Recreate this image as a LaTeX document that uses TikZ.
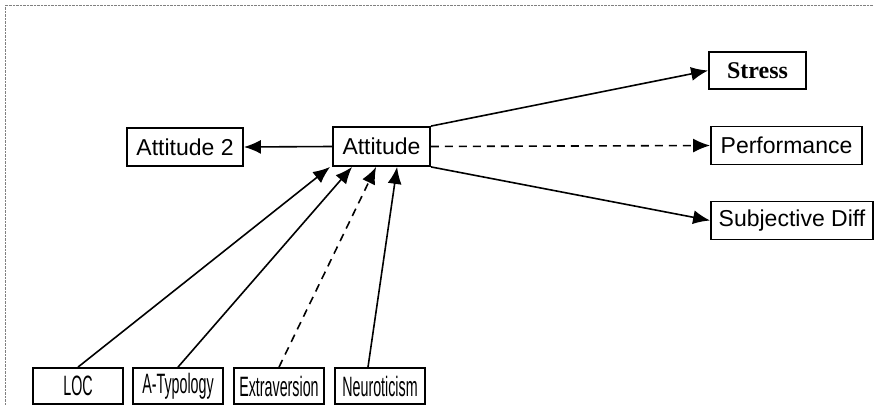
\documentclass[tikz,border=0pt]{standalone}
\usepackage{fontspec}
\setmainfont{Liberation Sans}
\newfontfamily\serifbox{Liberation Serif}
\usepackage{tikz}
\usetikzlibrary{arrows.meta}

\newcommand{\squeezed}[1]{\scalebox{0.51}[1]{#1}}

\begin{document}
\begin{tikzpicture}[x=1pt,y=-1pt,
		box/.style={draw, line width=1.8pt, inner sep=0pt, font=\fontsize{23}{27}\selectfont},
		lowbox/.style={box, minimum width=90pt, minimum height=36pt, font=\fontsize{28}{32}\selectfont},
		link/.style={line width=1.6pt, -{Latex[length=17pt,width=14pt]}},
		dashlink/.style={link, dash pattern=on 8pt off 6pt}]
			\useasboundingbox (0,0) rectangle (874,406);
			\draw [gray, densely dotted] (5,406) -- (5,5) -- (874,5);
			
			% middle row
			\node[box, minimum width=97pt, minimum height=39pt] (att) at (381.5,146.5) {Attitude};
			\node[box, minimum width=116pt, minimum height=38pt] (att2) at (185,147) {Attitude 2};
			
			% right column
			\node[box, minimum width=97pt, minimum height=37pt, font=\serifbox\bfseries\fontsize{24}{28}\selectfont] (stress) at (757.5,70.5) {Stress};
			\node[box, minimum width=151pt, minimum height=38pt] (perf) at (786.5,145.5) {Performance};
			\node[box, minimum width=162pt, minimum height=38pt] (subj) at (792,220.5) {Subjective Diff};
			
			% bottom row
			\node[lowbox] (loc) at (78,386) {\squeezed{LOC}};
			\node[lowbox] (atyp) at (178,386) {\squeezed{A-Typology}};
			\node[lowbox] (extra) at (279,386) {\squeezed{Extraversion}};
			\node[lowbox] (neuro) at (380,386) {\squeezed{Neuroticism}};
			
			\draw [link] (att.west) -- (att2.east);
			\draw [link] (att.north east) -- (stress.west);
			\draw [dashlink] (att.east) -- (perf.west);
			\draw [link] (att.south east) -- (subj.west);
			
			\draw [link] (loc.north) -- ([xshift=-2pt]att.south west);
			\draw [link] (atyp.north) -- ([xshift=20pt]att.south west);
			\draw [dashlink] (extra.north) -- ([xshift=44pt]att.south west);
			\draw [link] ([xshift=-12pt]neuro.north) -- ([xshift=65pt]att.south west);
		\end{tikzpicture}
\end{document}
